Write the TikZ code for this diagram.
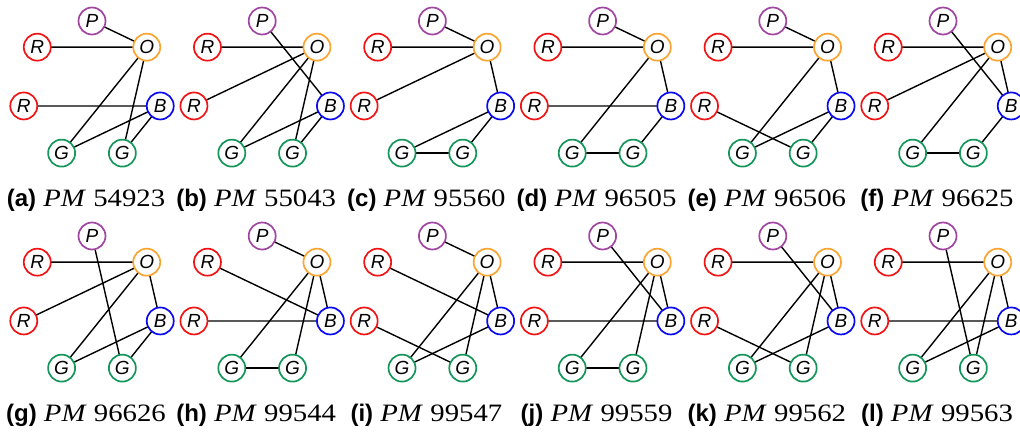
\documentclass[tikz,border=0pt]{standalone}
\usepackage{fontspec}
\setmainfont{Liberation Serif}
\setsansfont{Liberation Sans}
\newfontfamily\capserif[FakeStretch=1.15]{Liberation Serif}
\definecolor{cR}{RGB}{240,20,20}
\definecolor{cO}{RGB}{250,165,50}
\definecolor{cB}{RGB}{10,10,240}
\definecolor{cG}{RGB}{20,150,90}
\definecolor{cP}{RGB}{160,70,160}
\tikzset{
  vx/.style={circle, draw, fill=white, line width=1.7pt, inner sep=0pt,
    minimum size=27pt, font=\fontsize{19}{19}\selectfont\sffamily\itshape},
  edge/.style={line width=1.4pt, black},
  captext/.style={anchor=base, inner sep=0pt}
}
% one small graph on a heptagon: P, O, B, G, G, R, R clockwise from the top
\newcommand\hp[6]{%
  \begin{scope}[shift={(#2,#3)}]
    \foreach \n/\k in {P/0, O/1, B/2, Gr/3, Gl/4, Rl/5, Ru/6}
      \coordinate (#1\n) at ({92+70*sin(\k*360/7)}, {90.5-69.5*cos(\k*360/7)});
    \foreach \u/\v in {#6}
      \draw[edge] (#1\u) -- (#1\v);
    \foreach \n/\c/\t in {P/cP/P, O/cO/O, B/cB/B, Gr/cG/G, Gl/cG/G, Rl/cR/R, Ru/cR/R}
      \node[vx, draw=\c] (#1\n v) at (#1\n) {\t};
    \node[captext] (#1cap) at (86,206)
      {\fontsize{24}{28}\selectfont\sffamily\bfseries (#4)\fontsize{25}{28}\selectfont\capserif\mdseries{} \textit{PM} #5};
  \end{scope}}
\begin{document}
\begin{tikzpicture}[x=1pt, y=-1pt]
  \useasboundingbox (0,0) rectangle (1020,436);
  \hp{a}{0}{0}{a}{54923}{P/O, Ru/O, Rl/B, O/Gl, O/Gr, B/Gl, B/Gr}
  \hp{b}{170.2}{0}{b}{55043}{Ru/O, P/B, O/Rl, O/Gl, O/Gr, B/Gl, B/Gr}
  \hp{c}{340.4}{0}{c}{95560}{P/O, Ru/O, O/Rl, O/B, B/Gl, B/Gr, Gl/Gr}
  \hp{d}{510.6}{0}{d}{96505}{P/O, Ru/O, O/B, Rl/B, O/Gl, B/Gr, Gl/Gr}
  \hp{e}{680.8}{0}{e}{96506}{P/O, Ru/O, O/B, Rl/Gr, O/Gl, B/Gl, B/Gr}
  \hp{f}{851}{0}{f}{96625}{Ru/O, P/B, O/Rl, O/B, O/Gl, B/Gr, Gl/Gr}
  \hp{g}{0}{215}{g}{96626}{Ru/O, P/Gr, O/Rl, O/B, O/Gl, B/Gl, B/Gr}
  \hp{h}{170.2}{215}{h}{99544}{P/O, Ru/B, Rl/B, O/B, O/Gl, O/Gr, Gl/Gr}
  \hp{i}{340.4}{215}{i}{99547}{P/O, Ru/B, O/B, Rl/Gr, O/Gl, O/Gr, B/Gl}
  \hp{j}{510.6}{215}{j}{99559}{Ru/O, P/B, O/B, Rl/B, O/Gl, O/Gr, Gl/Gr}
  \hp{k}{680.8}{215}{k}{99562}{Ru/O, P/B, O/B, Rl/Gr, O/Gl, O/Gr, B/Gl}
  \hp{l}{851}{215}{l}{99563}{Ru/O, P/Gr, Rl/B, O/B, O/Gl, O/Gr, B/Gl}
\end{tikzpicture}
\end{document}
